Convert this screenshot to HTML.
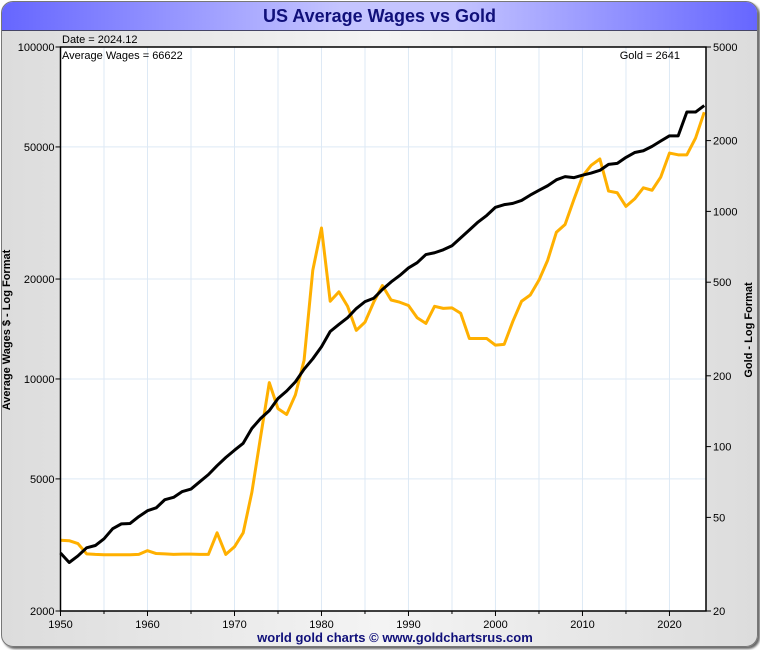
<!DOCTYPE html>
<html><head><meta charset="utf-8"><style>
body{margin:0;width:760px;height:650px;background:#fff;font-family:"Liberation Sans",sans-serif;overflow:hidden}
#frame{position:absolute;left:1px;top:1px;width:755px;height:644px;border:1px solid #777;border-radius:12px;background:linear-gradient(90deg,#dcdcdc,#f4f4f4 50%,#dcdcdc);box-shadow:2px 2px 2px #666;overflow:hidden}
#title{position:absolute;left:0;top:0;width:755px;height:28px;background:linear-gradient(90deg,#6666ff,#c4c4ff 45%,#c4c4ff 60%,#6666ff);border-bottom:1px solid #446;text-align:center;font:bold 18px "Liberation Sans",sans-serif;color:#10107a;line-height:29px}
</style></head><body>
<div id="frame">
<div id="title">US Average Wages vs Gold</div>
</div>
<svg id="chart" width="760" height="650" style="position:absolute;left:0;top:0" font-family="Liberation Sans, sans-serif"></svg>
<script>
const years=[];for(let y=1950;y<=2024;y++)years.push(y);
const wages=[2990,2800,2930,3100,3150,3300,3540,3660,3670,3850,4010,4090,4330,4400,4580,4660,4900,5150,5480,5800,6100,6400,7100,7600,8030,8730,9200,9800,10700,11500,12500,13900,14600,15300,16300,17100,17500,18600,19600,20500,21600,22400,23700,24000,24500,25200,26600,28100,29700,31100,32900,33500,33800,34500,35800,37000,38200,39800,40700,40400,41100,41700,42500,44300,44600,46500,48100,48700,50200,52100,54000,54000,63700,63700,66622];
const gold=[40,39.8,38.7,35,34.8,34.7,34.7,34.7,34.7,34.8,36.1,35.1,35,34.8,34.9,34.9,34.8,34.8,43,34.8,37.5,43,64,110,187,145,137,166,233,562,850,415,455,395,312,338,411,484,420,411,398,353,334,395,387,389,369,288,288,288,270,272,341,415,441,510,620,815,880,1120,1410,1570,1670,1220,1200,1050,1130,1260,1230,1400,1770,1740,1740,2050,2641];
const leftTicks=[100000,50000,20000,10000,5000,2000];
const rightTicks=[5000,2000,1000,500,200,100,50,20];
const xTicks=[1950,1960,1970,1980,1990,2000,2010,2020];
const L=60.5,R=706,T=47,B=611;
const x=yr=>L+(yr-1950)*(R-L)/74.2;
const yl=v=>T+(5-Math.log10(v))*(B-T)/Math.log10(50);
const yr_=v=>T+(Math.log10(5000)-Math.log10(v))*(B-T)/Math.log10(250);
const svg=document.getElementById('chart');const NS='http://www.w3.org/2000/svg';
function mk(t,a,p){const e=document.createElementNS(NS,t);for(const k in a)e.setAttribute(k,a[k]);(p||svg).appendChild(e);return e;}
let e=mk('rect',{x:L,y:T,width:R-L,height:B-T,fill:'#fff'});

for(let yr=1955;yr<=2020;yr+=5){e=mk('line',{x1:x(yr),x2:x(yr),y1:T,y2:B,stroke:'#dde9f5','stroke-width':1});
}
leftTicks.forEach(v=>{e=mk('line',{x1:L,x2:R,y1:yl(v),y2:yl(v),stroke:'#dde9f5'});
e=mk('line',{x1:L-5,x2:L,y1:yl(v),y2:yl(v),stroke:'#000'});
e=mk('text',{x:L-6,y:yl(v)+4,'text-anchor':'end','font-size':11});e.textContent=v;});
rightTicks.forEach(v=>{e=mk('line',{x1:R,x2:R+5,y1:yr_(v),y2:yr_(v),stroke:'#000'});
e=mk('text',{x:R+7,y:yr_(v)+4,'font-size':11});e.textContent=v;});
xTicks.forEach(v=>{e=mk('line',{x1:x(v),x2:x(v),y1:B,y2:B+5,stroke:'#000'});
e=mk('text',{x:x(v),y:B+17,'text-anchor':'middle','font-size':11});e.textContent=v;});
for(let yr=1955;yr<=2020;yr+=10){e=mk('line',{x1:x(yr),x2:x(yr),y1:B,y2:B+3,stroke:'#000'});}
e=mk('polyline',{points:years.map((yr,i)=>x(yr)+','+yr_(gold[i])).join(' '),fill:'none',stroke:'#ffb000','stroke-width':3,'stroke-linejoin':'round'});

e=mk('polyline',{points:years.map((yr,i)=>x(yr)+','+yl(wages[i])).join(' '),fill:'none',stroke:'#000','stroke-width':3,'stroke-linejoin':'round'});

e=mk('rect',{x:L,y:T,width:R-L,height:B-T,fill:'none',stroke:'#000','stroke-width':1.5});

function txt(s,a,n){e=mk('text',a);e.textContent=s;}
txt('Date = 2024.12',{x:62,y:43,'font-size':11},'date-label');
txt('Average Wages = 66622',{x:62,y:59,'font-size':11},'wages-value-label');
txt('Gold = 2641',{x:680,y:59,'font-size':11,'text-anchor':'end'},'gold-value-label');
txt('Average Wages $ - Log Format',{x:10,y:330,'font-size':11,'font-weight':'bold','text-anchor':'middle',transform:'rotate(-90 10 330)'},'left-axis-title');
txt('Gold - Log Format',{x:752,y:330,'font-size':11,'font-weight':'bold','text-anchor':'middle',transform:'rotate(-90 752 330)'},'right-axis-title');
txt('world gold charts © www.goldchartsrus.com',{x:395,y:642,'font-size':13,'font-weight':'bold','fill':'#10107a','text-anchor':'middle'},'footer-credit');
</script>
</body></html>
